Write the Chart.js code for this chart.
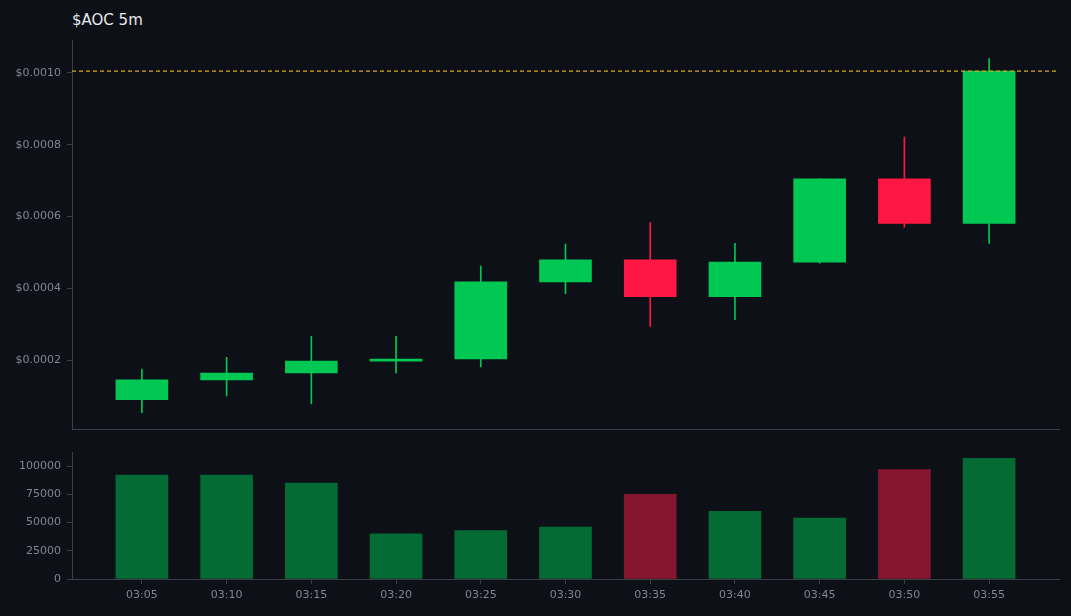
<!DOCTYPE html>
<html>
<head>
<meta charset="utf-8">
<script src="https://cdn.jsdelivr.net/npm/chart.js@4"></script>
<style>
  body { margin:0; background:#0d1017; width:1071px; height:616px; overflow:hidden; position:relative; font-family:"DejaVu Sans", sans-serif; }
  #title { position:absolute; left:72px; top:11px; color:#e6e8ec; font-size:15px; }
  #price { position:absolute; left:0; top:28px; }
  #vol { position:absolute; left:0; top:440px; }
</style>
</head>
<body>
<div id="title">$AOC 5m</div>
<canvas id="price" width="1071" height="414"></canvas>
<canvas id="vol" width="1071" height="176"></canvas>
<script>
const labels = ['03:05','03:10','03:15','03:20','03:25','03:30','03:35','03:40','03:45','03:50','03:55']
const opens  = [0.0000897,0.000145,0.000164,0.000197,0.000203,0.000418,0.000479,0.000377,0.000473,0.000705,0.000581]
const highs  = [0.000175,0.000208,0.000266,0.000266,0.000462,0.000523,0.000583,0.000525,0.000705,0.000821,0.00104]
const lows   = [0.0000538,0.0001,0.0000786,0.000164,0.000181,0.000385,0.000294,0.000313,0.00047,0.00057,0.000525]
const closes = [0.000145,0.000164,0.000197,0.000203,0.000418,0.000479,0.000377,0.000473,0.000705,0.000581,0.001005]
const volumes = [92000,92000,85000,40000,43000,46000,75000,60000,54000,97000,107000]
const priceTicks = [0.0002,0.0004,0.0006,0.0008,0.0010]
const volTicks = [0,25000,50000,75000,100000]
const lastPrice = 0.001005

const up = '#00c853', down = '#ff1744'
const upVol = '#056b35', downVol = '#85162e'
const tickCol = '#80858f', axisCol = '#3a3e46'
const tickFont = {size:11, family:'DejaVu Sans'}
const tickGrid = {drawOnChartArea:false, color:axisCol, tickLength:5, offset:false}

let isUp = opens.map((o,i) => closes[i] >= o)
let xScale = {
    type:'linear', min:-0.825, max:10.825, offset:false,
    grid:{display:false}, border:{color:axisCol},
    ticks:{display:false}, afterFit: s => { s.height = 0 }
}

let lastLine = {
    id:'lastLine',
    afterDatasetsDraw(chart){
        let y = chart.scales.y.getPixelForValue(lastPrice)
        let ctx = chart.ctx, a = chart.chartArea
        ctx.save()
        ctx.strokeStyle = '#d9a51c'; ctx.lineWidth = 1.2; ctx.setLineDash([4,3])
        ctx.beginPath(); ctx.moveTo(a.left, y); ctx.lineTo(a.right, y); ctx.stroke()
        ctx.restore()
    }
}

new Chart(document.getElementById('price'), {
    type:'bar',
    data:{
        datasets:[
            { data: labels.map((l,i)=>({x:i, y:[lows[i],highs[i]]})), backgroundColor: isUp.map(u=>u?up:down), barThickness:1, grouped:false },
            { data: labels.map((l,i)=>({x:i, y:[Math.min(opens[i],closes[i]),Math.max(opens[i],closes[i])]})), backgroundColor: isUp.map(u=>u?up:down), barThickness:52, grouped:false, minBarLength:2 }
        ]
    },
    options:{
        responsive:false, animation:false,
        layout:{padding:{top:5,bottom:4,right:12,left:0}},
        plugins:{legend:{display:false}, tooltip:{enabled:false}},
        scales:{
            x: xScale,
            y:{
                min:0.000007, max:0.00109,
                grid:tickGrid, border:{color:axisCol},
                afterBuildTicks: s => { s.ticks = priceTicks.map(v=>({value:v})) },
                afterFit: s => { s.width = 72 },
                ticks:{color:tickCol, font:tickFont, padding:6, callback: v => '$' + v.toFixed(4)}
            }
        }
    },
    plugins:[lastLine]
})

new Chart(document.getElementById('vol'), {
    type:'bar',
    data:{
        datasets:[
            { data: labels.map((l,i)=>({x:i, y:volumes[i]})), backgroundColor: isUp.map(u=>u?upVol:downVol), barThickness:52 }
        ]
    },
    options:{
        responsive:false, animation:false,
        layout:{padding:{top:2,bottom:0,right:12,left:0}},
        plugins:{legend:{display:false}, tooltip:{enabled:false}},
        scales:{
            x:{
                type:'linear', min:-0.825, max:10.825, offset:false,
                grid:tickGrid, border:{color:axisCol},
                afterBuildTicks: s => { s.ticks = labels.map((l,i)=>({value:i})) },
                afterFit: s => { s.height = 37 },
                ticks:{color:tickCol, font:tickFont, padding:5, maxRotation:0, callback: v => labels[v]}
            },
            y:{
                min:0, max:112000,
                grid:tickGrid, border:{color:axisCol},
                afterBuildTicks: s => { s.ticks = volTicks.map(v=>({value:v})) },
                afterFit: s => { s.width = 72 },
                ticks:{color:tickCol, font:tickFont, padding:6, callback: v => String(v)}
            }
        }
    }
})
</script>
</body>
</html>
